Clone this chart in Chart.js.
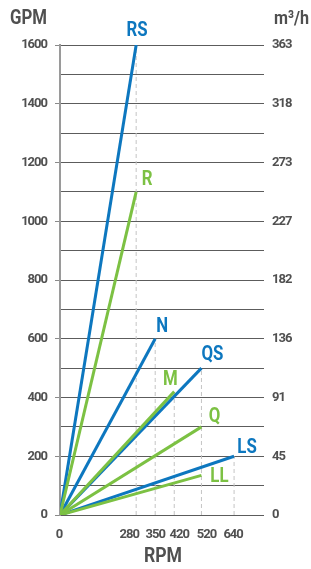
<!DOCTYPE html>
<html>
<head>
<meta charset="utf-8">
<script src="https://cdn.jsdelivr.net/npm/chart.js@4"></script>
<style>
    html, body { margin: 0; padding: 0; background: #fff; }
    #wrap { width: 311px; height: 569px; }
</style>
</head>
<body>
<div id="wrap"><canvas id="pumpChart" width="311" height="569"></canvas></div>
<script>
// Pump speed vs flow chart

const pumpNames = ['RS', 'R', 'N', 'QS', 'M', 'Q', 'LS', 'LL'];
const pumpRpm = [280, 280, 350, 520, 420, 520, 640, 520];
const pumpGpm = [1600, 1100, 600, 500, 420, 300, 200, 135];
const pumpFamily = ['blue', 'green', 'blue', 'blue', 'green', 'green', 'blue', 'green'];

const rpmTicks = [0, 280, 350, 420, 520, 640];
const dashRpm = [280, 350, 420, 520, 640];
const dashTopGpm = [1600, 600, 420, 500, 200];
const m3hLabels = [0, 45, 91, 136, 182, 227, 273, 318, 363];

const BLUE = '#0d77bf';
const GREEN = '#7cc143';
const TEXT = '#505050';
const FONT = "Roboto, 'Liberation Sans', sans-serif";

// label placement relative to the end of each line (px)
const labelOffset = {
    RS: [1, -14], R: [11, -12], N: [7, -12], QS: [11, -13],
    M: [-4, -12], Q: [13, -10], LS: [13, -9], LL: [18, 1]
};
// the rpm labels are spread a little in the original
const rpmLabelShift = [-1, -7, 0, 5, 5, -1];

const datasets = [];

pumpNames.forEach((name, i) => {
    datasets.push({
        label: name,
        data: [{ x: 0, y: 0 }, { x: pumpRpm[i], y: pumpGpm[i] }],
        borderColor: pumpFamily[i] === 'blue' ? BLUE : GREEN,
        borderWidth: 3,
        pointRadius: 0,
        order: pumpFamily[i] === 'blue' ? 1 : 0,
        yAxisID: 'y'
    });
});

dashRpm.forEach((x, i) => {
    datasets.push({
        data: [{ x: x, y: 0 }, { x: x, y: dashTopGpm[i] }],
        borderColor: '#c4c4c4',
        borderWidth: 1,
        borderDash: [4, 3],
        pointRadius: 0,
        order: 5,
        yAxisID: 'y'
    });
});

function narrowText(c, text, x, y, align, sx) {
    c.save();
    c.translate(x, y);
    c.scale(sx, 1);
    c.textAlign = align;
    c.fillText(text, 0, 0);
    c.restore();
}

const textPlugin = {
    id: 'texts',
    beforeDraw(chart) {
        chart.ctx.letterSpacing = '-1px';
        const xs = chart.scales.x;
        const items = xs.getLabelItems(chart.chartArea);
        if (!items._shifted) {
            items.forEach((it, i) => { it.options.translation[0] += rpmLabelShift[i] || 0; });
            items._shifted = true;
        }
    },
    afterDatasetsDraw(chart) {
        const c = chart.ctx;
        const xs = chart.scales.x;
        const ys = chart.scales.y;
        c.save();
        c.letterSpacing = '0px';
        c.textBaseline = 'middle';
        c.font = 'bold 21px ' + FONT;
        pumpNames.forEach((name, i) => {
            const px = xs.getPixelForValue(pumpRpm[i]);
            const py = ys.getPixelForValue(pumpGpm[i]);
            const off = labelOffset[name];
            c.fillStyle = pumpFamily[i] === 'blue' ? BLUE : GREEN;
            narrowText(c, name, px + off[0], py + off[1], 'center', 0.8);
        });
        c.fillStyle = TEXT;
        c.font = 'bold 20px ' + FONT;
        narrowText(c, 'GPM', 10, 19, 'left', 0.84);
        c.font = 'bold 19px ' + FONT;
        narrowText(c, 'm\u00b3/h', 309, 19, 'right', 0.85);
        c.font = 'bold 21px ' + FONT;
        narrowText(c, 'RPM', 163, 557, 'center', 0.84);
        c.restore();
    },
    afterDraw(chart) {
        chart.ctx.letterSpacing = '0px';
    }
};

new Chart(document.getElementById('pumpChart'), {
    type: 'line',
    data: { datasets: datasets },
    plugins: [textPlugin],
    options: {
        responsive: false,
        animation: false,
        layout: { padding: { top: 45, left: 0, right: 0, bottom: 0 } },
        plugins: {
            legend: { display: false },
            tooltip: { enabled: false }
        },
        scales: {
            x: {
                type: 'linear',
                min: 0,
                max: 750,
                afterBuildTicks: function(scale) {
                    scale.ticks = rpmTicks.map(v => ({ value: v }));
                },
                afterFit: function(scale) { scale.height = 54; },
                grid: { display: false, drawTicks: false },
                border: { display: false },
                ticks: {
                    color: TEXT,
                    padding: 12,
                    maxRotation: 0,
                    autoSkip: false,
                    font: { family: FONT, size: 13, weight: 'bold' }
                }
            },
            y: {
                type: 'linear',
                position: 'left',
                min: 0,
                max: 1600,
                afterFit: function(scale) { scale.width = 60; },
                ticks: {
                    stepSize: 100,
                    color: TEXT,
                    padding: 8,
                    font: { family: FONT, size: 13, weight: 'bold' },
                    callback: function(v) { return v % 200 === 0 ? String(v) : ''; }
                },
                grid: {
                    color: '#5c5c5c',
                    lineWidth: 1,
                    tickLength: 5,
                    tickColor: function(ctx) {
                        return ctx.tick && ctx.tick.value % 200 === 0 ? '#8a8a8a' : 'rgba(0,0,0,0)';
                    }
                },
                border: { display: true, color: '#9a9a9a', width: 2 }
            },
            y2: {
                type: 'linear',
                position: 'right',
                min: 0,
                max: 1600,
                afterFit: function(scale) { scale.width = 47; },
                ticks: {
                    stepSize: 200,
                    color: TEXT,
                    padding: 8,
                    font: { family: FONT, size: 13, weight: 'bold' },
                    callback: function(v) { return String(m3hLabels[Math.round(v / 200)]); }
                },
                grid: { display: false, drawTicks: false },
                border: { display: false }
            }
        }
    }
});
</script>
</body>
</html>
